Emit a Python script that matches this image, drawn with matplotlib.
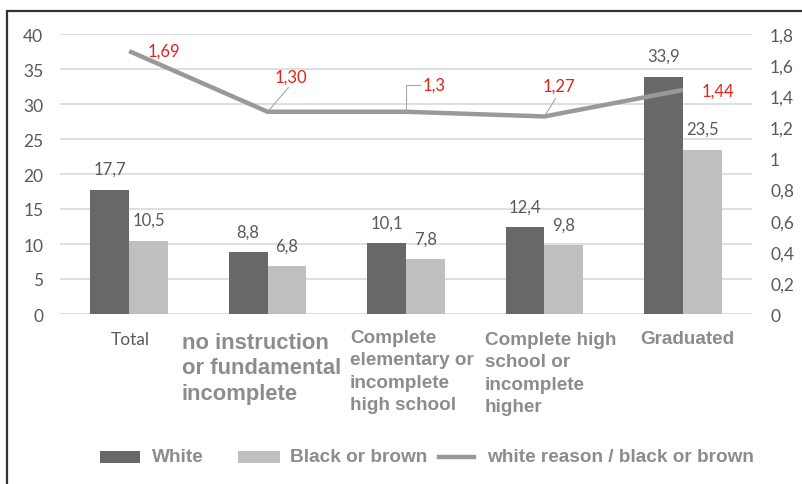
import matplotlib
matplotlib.use("Agg")
import matplotlib.pyplot as plt
import numpy as np
from matplotlib.patches import Rectangle
from matplotlib.lines import Line2D

categories = ["Total",
              "no instruction\nor fundamental\nincomplete",
              "Complete\nelementary or\nincomplete\nhigh school",
              "Complete high\nschool or\nincomplete\nhigher",
              "Graduated"]
white = [17.7, 8.8, 10.1, 12.4, 33.9]
black_brown = [10.5, 6.8, 7.8, 9.8, 23.5]
ratio = [1.69, 1.30, 1.30, 1.27, 1.44]
ratio_labels = ["1,69", "1,30", "1,3", "1,27", "1,44"]
left_ticks = [0, 5, 10, 15, 20, 25, 30, 35, 40]
right_ticks = [0, 0.2, 0.4, 0.6, 0.8, 1.0, 1.2, 1.4, 1.6, 1.8]
right_tick_labels = ["0", "0,2", "0,4", "0,6", "0,8", "1", "1,2", "1,4", "1,6", "1,8"]
series_names = ["White", "Black or brown", "white reason / black or brown"]

W, H = 803, 485
fig = plt.figure(figsize=(W / 100, H / 100), dpi=100)
fig.patch.set_facecolor("white")


def fx(px):
    return px / W


def fy(py):
    return 1 - py / H


# outer frame
fig.add_artist(Rectangle((fx(7), -0.01), 1.2, fy(12) + 0.01,
                         transform=fig.transFigure, fill=False,
                         edgecolor="#333333", linewidth=1.6))

ax = fig.add_axes([fx(60), fy(315), 692 / W, 280 / H])
ax2 = ax.twinx()

num_font = "Lato"
tick_col = "#595959"
dark = "#686868"
light = "#bfbfbf"
line_col = "#999999"

x = np.arange(len(categories))
bw = 0.28
ax.bar(x - bw / 2, white, bw, color=dark, zorder=2)
ax.bar(x + bw / 2, black_brown, bw, color=light, zorder=2)

for xi, v in zip(x, white):
    ax.annotate(f"{v:.1f}".replace(".", ","), (xi - bw / 2, v), xytext=(0, 13),
                textcoords="offset pixels", ha="center", va="bottom",
                fontsize=12, color=tick_col, family=num_font)
for xi, v in zip(x, black_brown):
    ax.annotate(f"{v:.1f}".replace(".", ","), (xi + bw / 2, v), xytext=(0, 13),
                textcoords="offset pixels", ha="center", va="bottom",
                fontsize=12, color=tick_col, family=num_font)

ax.set_xlim(-0.5, len(categories) - 0.5)
ax.set_ylim(0, 40)
ax.set_yticks(left_ticks)
ax.set_yticklabels([str(t) for t in left_ticks], family=num_font, fontsize=12.5, color=tick_col)
ax.tick_params(axis="y", length=0, pad=12)
ax.yaxis.grid(True, color="#d9d9d9", linewidth=1.2, zorder=0)
ax.set_axisbelow(True)
for s in ax.spines.values():
    s.set_visible(False)
for s in ax2.spines.values():
    s.set_visible(False)
ax.set_xticks([])

ax2.set_ylim(0, 1.8)
ax2.set_yticks(right_ticks)
ax2.set_yticklabels(right_tick_labels, family=num_font, fontsize=12.5, color=tick_col)
ax2.tick_params(axis="y", length=0, pad=13)
ax2.plot(x, ratio, color=line_col, linewidth=3.2, solid_capstyle="butt", zorder=3)

red = "#e0231b"
lbl_kw = dict(textcoords="offset pixels", fontsize=12, color=red, family=num_font,
              va="center", ha="left")
ax2.annotate(ratio_labels[0], (x[0], ratio[0]), xytext=(18, 0), **lbl_kw)
ax2.annotate(ratio_labels[1], (x[1], ratio[1]), xytext=(7, 35),
             arrowprops=dict(arrowstyle="-", color="#a6a6a6", lw=0.8,
                             shrinkA=0, shrinkB=2, relpos=(0.5, 0)), **lbl_kw)
ax2.annotate(ratio_labels[2], (x[2], ratio[2]), xytext=(17, 27),
             arrowprops=dict(arrowstyle="-", color="#a6a6a6", lw=0.8,
                             shrinkA=0, shrinkB=0, relpos=(0, 0.5),
                             connectionstyle="angle,angleA=0,angleB=90,rad=0"), **lbl_kw)
ax2.annotate(ratio_labels[3], (x[3], ratio[3]), xytext=(-2, 31),
             arrowprops=dict(arrowstyle="-", color="#a6a6a6", lw=0.8,
                             shrinkA=2, shrinkB=2, relpos=(0.5, 0)), **lbl_kw)
ax2.annotate(ratio_labels[4], (x[4], ratio[4]), xytext=(19, -1), **lbl_kw)

# category labels
cat_col = "#8c8c8c"
sans = "Liberation Sans"
fig.text(fx(130), fy(340), categories[0], ha="center", va="center",
         fontsize=12.5, color=tick_col, family=num_font)
fig.text(fx(182), fy(333), categories[1], ha="left", va="top",
         fontsize=15.8, color=cat_col, family=sans, weight="bold",
         linespacing=1.27)
fig.text(fx(350), fy(330), categories[2], ha="left", va="top",
         fontsize=13.6, color=cat_col, family=sans, weight="bold",
         linespacing=1.42)
fig.text(fx(485), fy(332), categories[3], ha="left", va="top",
         fontsize=13.6, color=cat_col, family=sans, weight="bold",
         linespacing=1.42)
fig.text(fx(640), fy(340), categories[4], ha="left", va="center",
         fontsize=13.6, color=cat_col, family=sans, weight="bold")

# legend along the bottom
leg_y = 458
fig.add_artist(Rectangle((fx(100), fy(leg_y + 6)), 40 / W, 12 / H,
                         transform=fig.transFigure, facecolor=dark, edgecolor="none"))
fig.add_artist(Rectangle((fx(238), fy(leg_y + 6)), 42 / W, 12 / H,
                         transform=fig.transFigure, facecolor=light, edgecolor="none"))
fig.add_artist(Line2D([fx(439), fx(474)], [fy(leg_y), fy(leg_y)],
                      transform=fig.transFigure, color=line_col, linewidth=3.2))
for px, name in zip([152, 290, 487], series_names):
    fig.text(fx(px), fy(leg_y), name, ha="left", va="center", fontsize=13.7,
             color=cat_col, family=sans, weight="bold")

fig.savefig("out.png", dpi=100)
